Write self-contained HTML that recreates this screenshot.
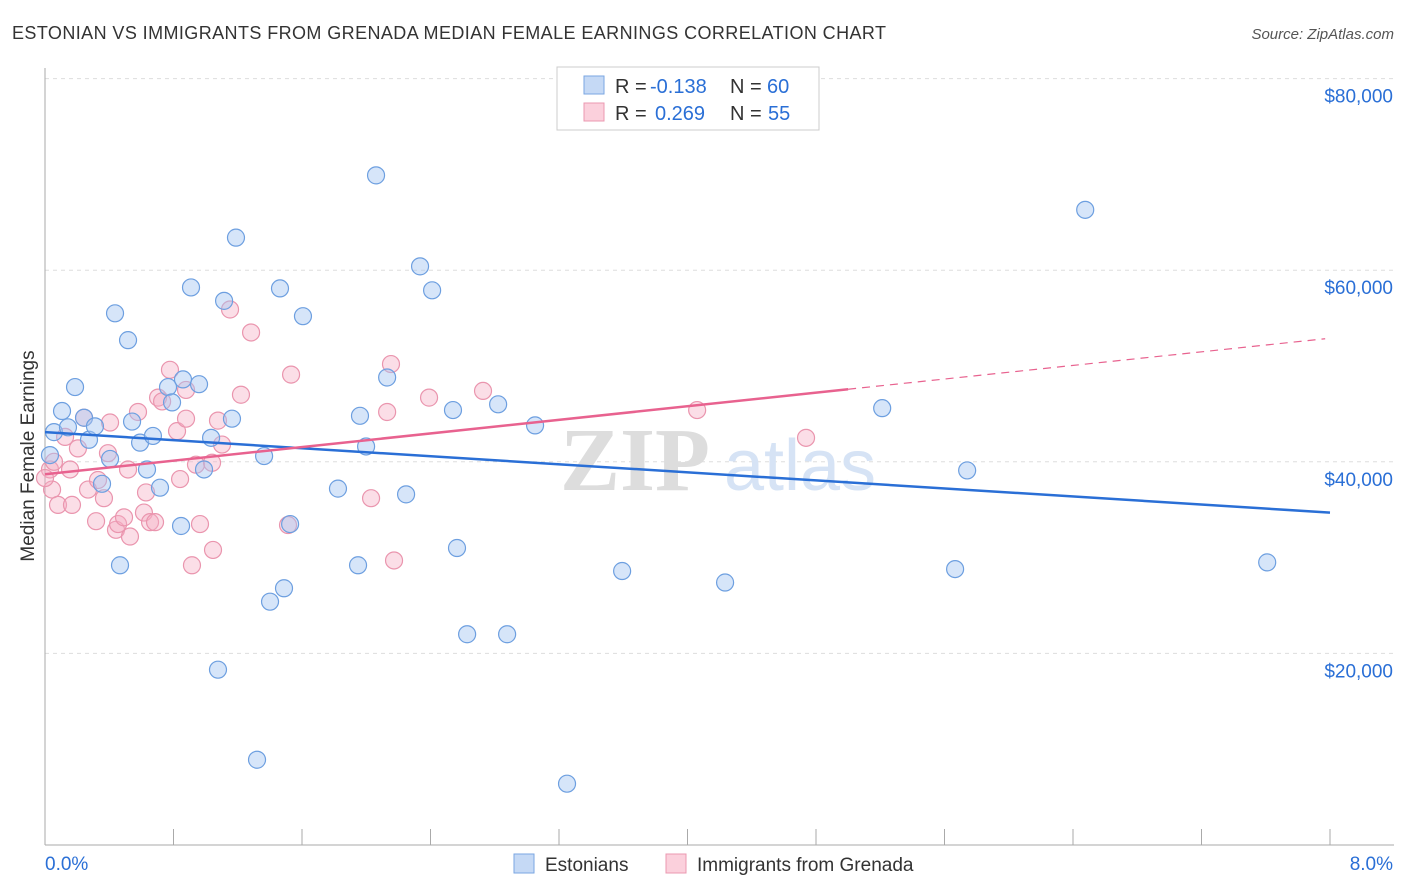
<!DOCTYPE html>
<html><head><meta charset="utf-8"><style>
body{margin:0;background:#fff;font-family:"Liberation Sans",sans-serif;}
svg{display:block}
</style></head><body>
<svg id="chart" width="1406" height="892">
<text x="12" y="39" font-size="18" fill="#333" textLength="874">ESTONIAN VS IMMIGRANTS FROM GRENADA MEDIAN FEMALE EARNINGS CORRELATION CHART</text>
<text x="1394" y="39" font-size="15" fill="#555" font-style="italic" text-anchor="end">Source: ZipAtlas.com</text>
<text x="34" y="456" font-size="19" fill="#333" text-anchor="middle" transform="rotate(-90 34 456)">Median Female Earnings</text>
<g id="grid"></g>
<g id="watermark">
<text x="635" y="490" font-size="90" fill="#ddd" text-anchor="middle" font-family="Liberation Serif" font-weight="bold">ZIP</text>
<text x="800" y="490" font-size="72" fill="#d6e3f5" text-anchor="middle">atlas</text>
</g>
<g id="pts"></g>
<g id="lines"></g>
<g>
<rect x="557" y="67" width="262" height="63" fill="#fff" stroke="#ccc"/>
<rect x="584" y="76" width="20" height="18" fill="#c5d9f5" stroke="#7aa6e2"/>
<rect x="584" y="103" width="20" height="18" fill="#fbd0dc" stroke="#eb98b0"/>
<text x="615" y="93" font-size="20" fill="#333">R =</text>
<text x="650" y="93" font-size="20" fill="#2a6fd6">-0.138</text>
<text x="730" y="93" font-size="20" fill="#333">N =</text>
<text x="767" y="93" font-size="20" fill="#2a6fd6">60</text>
<text x="615" y="120" font-size="20" fill="#333">R =</text>
<text x="655" y="120" font-size="20" fill="#2a6fd6">0.269</text>
<text x="730" y="120" font-size="20" fill="#333">N =</text>
<text x="768" y="120" font-size="20" fill="#2a6fd6">55</text>
</g>
<g>
<rect x="514" y="854" width="20" height="19" fill="#c5d9f5" stroke="#7aa6e2"/>
<text x="545" y="871" font-size="19" fill="#333">Estonians</text>
<rect x="666" y="854" width="20" height="19" fill="#fbd0dc" stroke="#eb98b0"/>
<text x="697" y="871" font-size="19" fill="#333">Immigrants from Grenada</text>
</g>
</svg>
<script>
const yTicks=[20000,40000,60000,80000];
const yTickLabels=["$20,000","$40,000","$60,000","$80,000"];
const xTicks=[0,0.8,1.6,2.4,3.2,4.0,4.8,5.6,6.4,7.2,8.0];
const xEndLabels=["0.0%","8.0%"];
const estX=[0.056,0.106,0.187,0.143,0.274,0.243,0.311,0.436,0.517,0.405,0.355,0.542,0.635,0.592,0.672,0.716,0.467,0.766,0.791,0.859,0.959,0.909,1.115,1.034,0.990,1.164,1.189,0.847,1.077,1.364,1.463,1.606,1.526,1.488,1.401,1.320,1.824,1.961,1.999,1.949,2.061,2.130,2.248,2.335,2.410,2.540,2.565,2.628,2.821,2.877,3.051,3.250,3.593,4.234,5.212,5.666,5.741,6.476,7.609,0.031];
const estY=[43.1,45.3,47.8,43.6,42.3,44.6,43.7,55.5,52.7,40.3,37.7,44.2,39.2,42.0,42.7,37.3,29.2,47.8,46.2,48.6,48.1,58.2,56.8,42.5,39.2,44.5,63.4,33.3,18.3,40.6,58.1,55.2,33.5,26.8,25.4,8.9,37.2,44.8,41.6,29.2,69.9,48.8,36.6,60.4,57.9,45.4,31.0,22.0,46.0,22.0,43.8,6.4,28.6,27.4,45.6,28.8,39.1,66.3,29.5,40.7];
const grnX=[0.031,0.044,0.056,0.081,0.125,0.168,0.156,0.205,0.243,0.268,0.318,0.330,0.367,0.392,0.405,0.442,0.455,0.492,0.529,0.517,0.579,0.616,0.629,0.654,0.685,0.704,0.729,0.778,0.822,0.841,0.878,0.878,0.915,0.940,0.965,1.040,1.046,1.077,1.102,1.152,1.220,1.283,1.513,1.532,2.030,2.130,2.154,2.173,2.391,2.727,4.060,4.738,0.0];
const grnY=[39.2,37.1,40.0,35.5,42.6,35.5,39.2,41.4,44.6,37.1,33.8,38.1,36.2,40.9,44.1,32.9,33.5,34.2,32.2,39.2,45.2,34.7,36.8,33.7,33.7,46.7,46.3,49.6,43.2,38.2,44.5,47.5,29.2,39.7,33.5,39.9,30.8,44.3,41.8,55.9,47.0,53.5,33.4,49.1,36.2,45.2,50.2,29.7,46.7,47.4,45.4,42.5,38.3];
const estTrend=[43.1,34.7];
const grnTrend=[38.7,52.9];
const grnSolidEnd=5.0;
const NS="http://www.w3.org/2000/svg";
const X=v=>45+v/8*1285;
const Y=v=>845-v/20000*191.6;
function mk(t,a,p){const e=document.createElementNS(NS,t);for(const k in a)e.setAttribute(k,a[k]);p.appendChild(e);return e;}
const grid=document.getElementById('grid');
yTicks.forEach((t,i)=>{
 const g=mk('line',{x1:45,x2:1394,y1:Y(t),y2:Y(t),stroke:'#ddd','stroke-dasharray':'4,4'},grid);
 
 
 const l=mk('text',{x:1393,y:Y(t)+24,'font-size':19,fill:'#2a6fd6','text-anchor':'end'},grid);
 l.textContent=yTickLabels[i];
 
 
});
const ax=mk('line',{x1:45,x2:45,y1:68,y2:845,stroke:'#aaa'},grid);


const bx=mk('line',{x1:45,x2:1394,y1:845,y2:845,stroke:'#aaa'},grid);


xTicks.forEach(t=>{const k=mk('line',{x1:X(t),x2:X(t),y1:829,y2:845,stroke:'#aaa'},grid);
 
 });
const l0=mk('text',{x:45,y:870,'font-size':19,fill:'#2a6fd6'},grid);l0.textContent=xEndLabels[0];


const l1=mk('text',{x:1393,y:870,'font-size':19,fill:'#2a6fd6','text-anchor':'end'},grid);l1.textContent=xEndLabels[1];


const pts=document.getElementById('pts');
grnX.forEach((x,i)=>{const c=mk('circle',{cx:X(x),cy:Y(grnY[i]*1000),r:8.5,fill:'rgba(246,172,194,0.4)',stroke:'#ea95ae','stroke-width':1.2},pts);
 
 });
estX.forEach((x,i)=>{const c=mk('circle',{cx:X(x),cy:Y(estY[i]*1000),r:8.5,fill:'rgba(165,198,242,0.45)',stroke:'#6d9fe0','stroke-width':1.2},pts);
 
 });
const ln=document.getElementById('lines');
const e1=mk('line',{x1:X(0),y1:Y(estTrend[0]*1000),x2:X(8),y2:Y(estTrend[1]*1000),stroke:'#2a6fd6','stroke-width':2.5},ln);


const gy=x=>grnTrend[0]+(grnTrend[1]-grnTrend[0])*x/8;
const g1=mk('line',{x1:X(0),y1:Y(gy(0)*1000),x2:X(grnSolidEnd),y2:Y(gy(grnSolidEnd)*1000),stroke:'#e8628f','stroke-width':2.5},ln);


const g2=mk('line',{x1:X(grnSolidEnd),y1:Y(gy(grnSolidEnd)*1000),x2:X(7.97),y2:Y(gy(7.97)*1000),stroke:'#e8628f','stroke-width':1.2,'stroke-dasharray':'8,6'},ln);


</script>
</body></html>
